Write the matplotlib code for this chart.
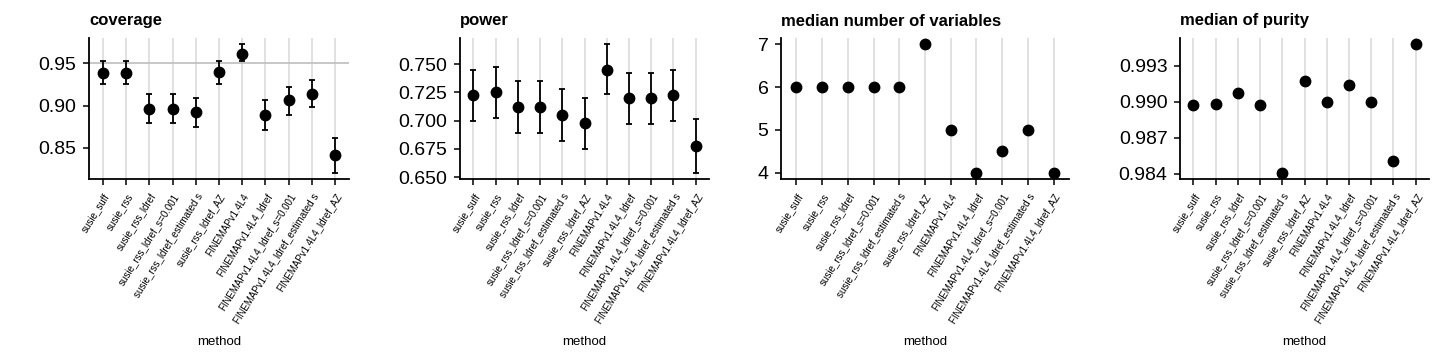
import numpy as np
import matplotlib
matplotlib.use('Agg')
import matplotlib.pyplot as plt

plt.rcParams['font.family'] = ['Liberation Sans', 'DejaVu Sans']

# methods on the x axis (same order in every panel)
methods = ['susie_suff', 'susie_rss', 'susie_rss_ldref', 'susie_rss_ldref_s=0.001',
           'susie_rss_ldref_estimated s', 'susie_rss_ldref_AZ', 'FINEMAPv1.4L4',
           'FINEMAPv1.4L4_ldref', 'FINEMAPv1.4L4_ldref_s=0.001',
           'FINEMAPv1.4L4_ldref_estimated s', 'FINEMAPv1.4L4_ldref_AZ']

# coverage with lower / upper bounds
coverage = [0.938, 0.938, 0.896, 0.896, 0.892, 0.939, 0.961, 0.889, 0.906, 0.914, 0.842]
coverage_lo = [0.925, 0.925, 0.879, 0.879, 0.875, 0.925, 0.952, 0.871, 0.889, 0.898, 0.821]
coverage_hi = [0.952, 0.952, 0.913, 0.913, 0.909, 0.953, 0.972, 0.906, 0.9215, 0.930, 0.862]

# power with lower / upper bounds
power = [0.7224, 0.725, 0.7123, 0.7123, 0.705, 0.6977, 0.745, 0.720, 0.720, 0.7224, 0.6776]
power_lo = [0.700, 0.7027, 0.6895, 0.6895, 0.6824, 0.6747, 0.7235, 0.6974, 0.6974, 0.700, 0.654]
power_hi = [0.745, 0.7474, 0.735, 0.735, 0.7277, 0.7203, 0.7676, 0.7427, 0.7427, 0.745, 0.7012]

# median number of variables in the CS
median_size = [6, 6, 6, 6, 6, 7, 5, 4, 4.5, 5, 4]

# median purity
median_purity = [0.98975, 0.98981, 0.99074, 0.98973, 0.98411, 0.99174,
                 0.99002, 0.99145, 0.99000, 0.98504, 0.99480]

fig = plt.figure(figsize=(14.4, 3.6), dpi=100)

lefts = [89, 460, 781, 1180]
rights = [349, 709, 1069, 1429]
top_px, bottom_px = 38, 179

panels = [
    ('coverage', coverage, coverage_lo, coverage_hi, [0.85, 0.90, 0.95], '%.2f'),
    ('power', power, power_lo, power_hi, [0.650, 0.675, 0.700, 0.725, 0.750], '%.3f'),
    ('median number of variables', median_size, None, None, [4, 5, 6, 7], '%d'),
    ('median of purity', median_purity, None, None, [0.984, 0.987, 0.990, 0.993], '%.3f'),
]

x = np.arange(len(methods))

for i, (title, vals, lo, hi, yticks, fmt) in enumerate(panels):
    l = lefts[i] / 1440
    w = (rights[i] - lefts[i]) / 1440
    b = 1 - bottom_px / 360
    h = (bottom_px - top_px) / 360
    ax = fig.add_axes([l, b, w, h])

    vals = np.array(vals)
    for xi in x:
        ax.axvline(xi, color='#d9d9d9', lw=1.1, zorder=0)

    if lo is not None:
        lo = np.array(lo)
        hi = np.array(hi)
        ax.errorbar(x, vals, yerr=[vals - lo, hi - vals], fmt='none',
                    ecolor='black', elinewidth=1.3, capsize=2, capthick=1.3, zorder=2)
        ymin, ymax = lo.min(), hi.max()
    else:
        ymin, ymax = vals.min(), vals.max()

    if title == 'coverage':
        ax.axhline(0.95, color='#bebebe', lw=1.2, zorder=1)
        ymin, ymax = min(ymin, 0.95), max(ymax, 0.95)

    ax.plot(x, vals, 'o', color='black', markersize=7.5, zorder=3)

    pad = (ymax - ymin) * 0.05
    ax.set_ylim(ymin - pad, ymax + pad)
    ax.set_xlim(-0.6, len(methods) - 0.4)

    ax.set_yticks(yticks)
    ax.set_yticklabels([fmt % t for t in yticks], fontsize=14)
    ax.set_xticks(x)
    ax.set_xticklabels(methods, rotation=58, ha='right', rotation_mode='anchor', fontsize=7)

    ax.tick_params(axis='both', length=4, width=1.1, color='black')
    ax.tick_params(axis='y', pad=5)
    ax.tick_params(axis='x', pad=5)
    for s in ['top', 'right']:
        ax.spines[s].set_visible(False)
    for s in ['left', 'bottom']:
        ax.spines[s].set_linewidth(1.3)

    ax.set_title(title, loc='left', fontsize=12, fontweight='bold', pad=9)
    ax.set_xlabel('method', fontsize=9.5)
    ax.xaxis.set_label_coords(0.5, -1.115)

fig.savefig('out.png', dpi=100)
